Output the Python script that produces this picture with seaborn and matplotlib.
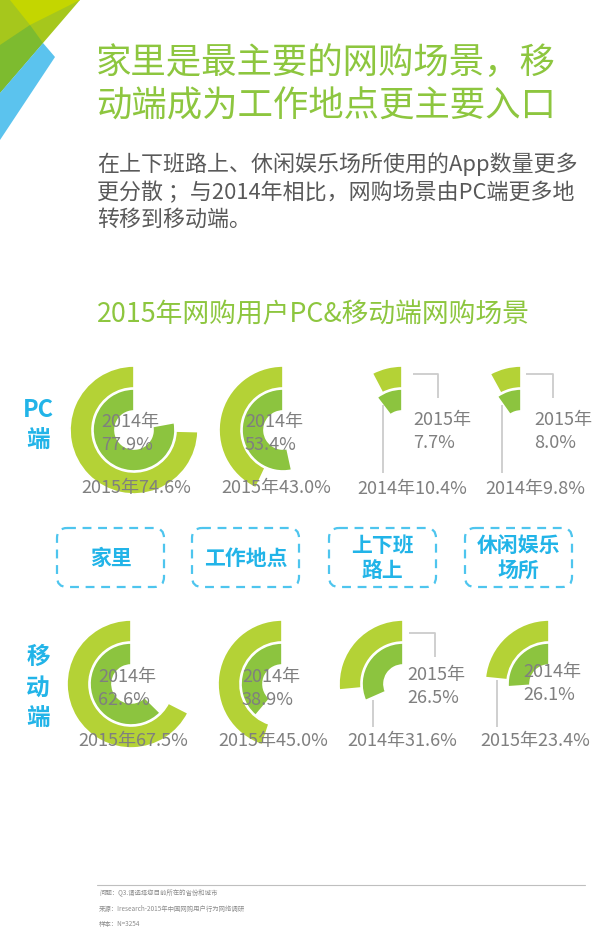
import matplotlib
matplotlib.use('Agg')
import matplotlib.pyplot as plt
import seaborn as sns
from matplotlib.patches import Wedge, FancyBboxPatch, Polygon

# 数据
scenes = ['家里', '工作地点', '上下班\n路上', '休闲娱乐\n场所']
pc_2014 = [77.9, 53.4, 10.4, 9.8]
pc_2015 = [74.6, 43.0, 7.7, 8.0]
mobile_2014 = [62.6, 38.9, 31.6, 26.1]
mobile_2015 = [67.5, 45.0, 26.5, 23.4]

title = '家里是最主要的网购场景，移\n动端成为工作地点更主要入口'
subtitle = ['在上下班路上、休闲娱乐场所使用的App数量更多',
            '更分散 ；与2014年相比，网购场景由PC端更多地',
            '转移到移动端。']
chart_title = '2015年网购用户PC&移动端网购场景'
notes = ['问题：Q3.请选择您目前所在的省份和城市',
         '来源：Iresearch-2015年中国网购用户行为网络调研',
         '样本：N=3254']

colors = {
    'outer': '#B4D236',
    'inner': '#8CC43F',
    'title': '#8DC63F',
    'text': '#595959',
    'label': '#7F7F7F',
    'blue': '#22B4E8',
    'box': '#4EC5EE',
    'line': '#CCCCCC',
}

sns.set_theme(style='white')
plt.rcParams['font.family'] = ['Noto Sans CJK SC', 'DejaVu Sans']

W, H = 600, 936
fig = plt.figure(figsize=(6, 9.36), dpi=100)
ax = fig.add_axes([0, 0, 1, 1])
ax.set_xlim(0, W)
ax.set_ylim(H, 0)
ax.axis('off')

# 左上角装饰
ax.add_patch(Polygon([(0, 0), (80, 0), (43, 43), (0, 93)], closed=True, color='#A6C71C', lw=0))
ax.add_patch(Polygon([(10, 0), (80, 0), (30, 25)], closed=True, color='#C4D600', lw=0))
ax.add_patch(Polygon([(0, 45), (30, 25), (43, 43), (0, 93)], closed=True, color='#7DBB2F', lw=0))
ax.add_patch(Polygon([(43, 43), (55, 57), (0, 140), (0, 93)], closed=True, color='#5BC3EE', lw=0))

# 标题
for i, line in enumerate(title.split('\n')):
    ax.text(96, 63 + i * 44, line, fontsize=25.5, color=colors['title'], va='center', ha='left')
for y, line in zip([164, 193, 220], subtitle):
    ax.text(97, y, line, fontsize=15.8, color=colors['text'], va='center', ha='left')
ax.text(97, 315, chart_title, fontsize=19.3, color=colors['title'], va='center', ha='left')

# 左侧标签
ax.text(38, 410, 'PC', fontsize=17, color=colors['blue'], weight='bold', ha='center', va='center')
ax.text(38, 441, '端', fontsize=17, color=colors['blue'], weight='bold', ha='center', va='center')
for y, ch in zip([657, 688, 719], '移动端'):
    ax.text(38, y, ch, fontsize=17, color=colors['blue'], weight='bold', ha='center', va='center')

R_OUT, R_IN, WIDTH = 64, 41, 22


def ring(cx, cy, r, pct, color):
    ax.add_patch(Wedge((cx, cy), r, -90 - 360 * pct / 100, -90, width=WIDTH,
                       facecolor=color, edgecolor='white', lw=1.2))


def label(x, y, lines, step=23):
    for i, s in enumerate(lines):
        ax.text(x, y + i * step, s, fontsize=13, color=colors['label'], ha='left', va='center')


def leader(xs, ys):
    ax.plot(xs, ys, color=colors['line'], lw=1.3, solid_capstyle='butt')


pc_centers = [(134, 430), (283, 430), (402, 430), (521, 430)]
mobile_centers = [(131, 684), (282, 684), (403, 684), (549, 684)]

rows = [(pc_centers, pc_2014, pc_2015), (mobile_centers, mobile_2014, mobile_2015)]
for centers, v14, v15 in rows:
    for (cx, cy), a, b in zip(centers, v14, v15):
        ring(cx, cy, R_OUT, b, colors['outer'])
        ring(cx, cy, R_IN, a, colors['inner'])

# PC端标签
(cx, cy) = pc_centers[0]
label(cx - 33, cy - 8, ['2014年', f'{pc_2014[0]:.1f}%'])
label(cx - 53, cy + 58, [f'2015年{pc_2015[0]:.1f}%'])
(cx, cy) = pc_centers[1]
label(cx - 38, cy - 8, ['2014年', f'{pc_2014[1]:.1f}%'])
label(cx - 62, cy + 58, [f'2015年{pc_2015[1]:.1f}%'])
(cx, cy) = pc_centers[2]
leader([cx + 11, cx + 36, cx + 36], [cy - 56, cy - 56, cy - 32])
leader([cx - 19, cx - 19], [cy - 25, cy + 43])
label(cx + 11, cy - 10, ['2015年', f'{pc_2015[2]:.1f}%'])
label(cx - 45, cy + 59, [f'2014年{pc_2014[2]:.1f}%'])
(cx, cy) = pc_centers[3]
leader([cx + 5, cx + 32, cx + 32], [cy - 56, cy - 56, cy - 32])
leader([cx - 19, cx - 19], [cy - 25, cy + 43])
label(cx + 13, cy - 10, ['2015年', f'{pc_2015[3]:.1f}%'])
label(cx - 36, cy + 59, [f'2014年{pc_2014[3]:.1f}%'])

# 移动端标签
(cx, cy) = mobile_centers[0]
label(cx - 33, cy - 7, ['2014年', f'{mobile_2014[0]:.1f}%'])
label(cx - 53, cy + 57, [f'2015年{mobile_2015[0]:.1f}%'])
(cx, cy) = mobile_centers[1]
label(cx - 40, cy - 7, ['2014年', f'{mobile_2014[1]:.1f}%'])
label(cx - 64, cy + 57, [f'2015年{mobile_2015[1]:.1f}%'])
(cx, cy) = mobile_centers[2]
leader([cx + 6, cx + 32, cx + 32], [cy - 51, cy - 51, cy - 27])
leader([cx - 30, cx - 30], [cy + 16, cy + 43])
label(cx + 4, cy - 9, ['2015年', f'{mobile_2015[2]:.1f}%'])
label(cx - 56, cy + 57, [f'2014年{mobile_2014[2]:.1f}%'])
(cx, cy) = mobile_centers[3]
leader([cx - 52, cx - 52], [cy - 4, cy + 43])
label(cx - 26, cy - 12, ['2014年', f'{mobile_2014[3]:.1f}%'])
label(cx - 69, cy + 57, [f'2015年{mobile_2015[3]:.1f}%'])

# 场景框
box_x = [57, 192, 329, 465]
for x, s in zip(box_x, scenes):
    ax.add_patch(FancyBboxPatch((x, 528), 107, 59, boxstyle='round,pad=0,rounding_size=10',
                                fill=False, edgecolor=colors['box'], lw=1.6, linestyle=(0, (4, 3))))
    lines = s.split('\n')
    y0 = 558 - (len(lines) - 1) * 12.5
    for i, t in enumerate(lines):
        ax.text(x + 53.5, y0 + i * 25, t, fontsize=15, color=colors['blue'], weight='bold',
                ha='center', va='center')

# 脚注
ax.plot([97, 585], [885, 885], color='#BFBFBF', lw=0.8)
for i, t in enumerate(notes):
    ax.text(99, 893 + i * 15.5, t, fontsize=4.6, color='#8C8C8C', ha='left', va='center')

fig.savefig('out.png', dpi=100, facecolor='white')
